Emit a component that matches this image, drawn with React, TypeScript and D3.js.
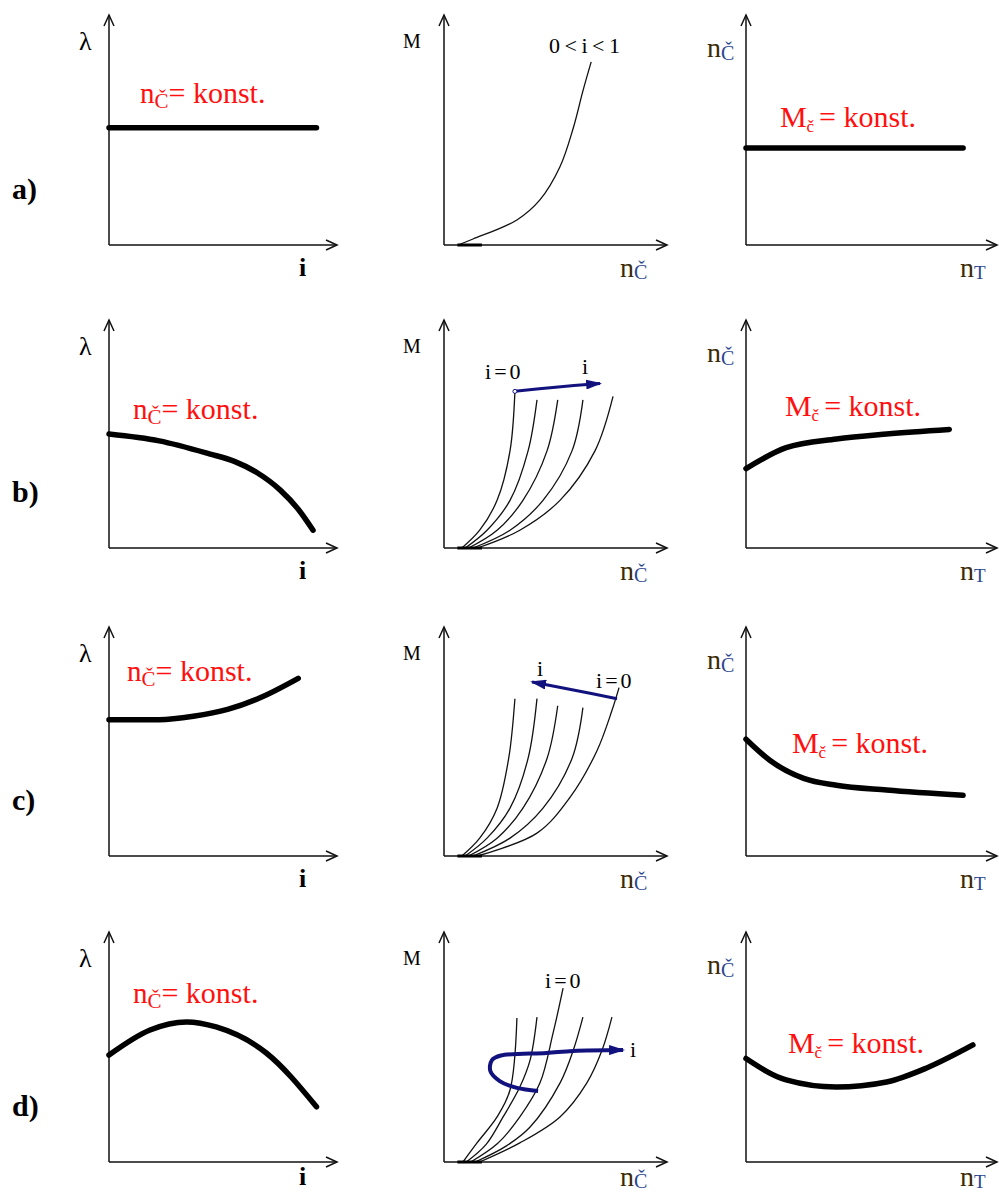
import React from "react";
import * as d3 from "d3";

const rowLabels = ["a)", "b)", "c)", "d)"];

// lambda = f(i), nČ = konst.
const lambdaA = [[0, 51], [91, 51]];
const lambdaB = [[0, 50], [22, 47], [44, 41.3], [55, 38], [65, 33], [75, 25.5], [83, 17], [89.5, 7.8]];
const lambdaC = [[0, 59.5], [22, 59.5], [37, 61], [52, 64], [66, 69], [83, 77.6]];
const lambdaD = [[0, 46.5], [18, 57.4], [34, 60.9], [47, 58.7], [69, 47.4], [91, 24]];

// M = f(nČ)
const torqueA = [
  [[6.3, 0], [13, 2.6], [32.7, 10.9], [43, 19.6], [52, 34], [58, 51], [62.3, 67], [66, 79.6]],
];
const torqueB = [
  [[8, 0], [16, 7.8], [23.8, 20.9], [29.6, 42.6], [31.8, 68.7]],
  [[9.5, 0], [19.3, 7.8], [29.6, 20.9], [37.7, 42.6], [41.7, 65]],
  [[11, 0], [23.8, 7.8], [35.4, 20.9], [46.2, 42.6], [51, 65]],
  [[13, 0], [29.6, 7.8], [44.4, 20.9], [57.4, 42.6], [62.3, 65]],
  [[15, 0], [34, 7.8], [52, 20.9], [67.7, 42.6], [75.8, 66.5]],
];
const torqueC = [
  [[8, 0], [16, 7.8], [23.8, 20.9], [29, 42.6], [31.8, 68.7]],
  [[9.5, 0], [19.3, 7.8], [29.6, 20.9], [37.7, 42.6], [41.7, 68.7]],
  [[11, 0], [23.8, 7.8], [35.4, 20.9], [46.2, 42.6], [51, 65.6]],
  [[13, 0], [29.6, 7.8], [44.4, 20.9], [57.4, 42.6], [62.3, 64.8]],
  [[15, 0], [41.7, 10], [56.5, 25.6], [68.6, 46], [75.3, 63.5], [78.5, 73.5]],
];
const torqueD = [
  [[8.5, 0], [14.8, 8.3], [23.8, 19.6], [29.6, 31.3], [32.7, 62.6]],
  [[10, 0], [19, 7.8], [26.5, 19.6], [34, 32.6], [38.6, 44.3], [41.7, 63]],
  [[12, 0], [24, 8], [34, 19.6], [43, 34.3], [48.9, 56], [53.4, 75.6]],
  [[14, 0], [28, 7], [38.6, 15.2], [52, 34.3], [58, 48.7], [62.3, 63]],
  [[16, 0], [34, 8.3], [52, 19.6], [64, 34.3], [70.9, 48.7], [75.3, 63]],
];
const shiftB = [[31.8, 68.7], [50, 70.5], [70, 72.2]];
const shiftC = [[77.6, 68.7], [58, 72.5], [39.5, 76]];
const shiftD = [[42.2, 30.9], [32.7, 32.2], [25, 35.2], [20.8, 39.5], [21.5, 44.3], [25.5, 46.3], [46, 47.4], [58, 48.3], [80.3, 48.7]];

// nČ = f(nT), Mč = konst.
const speedA = [[0, 42.2], [86.5, 42.2]];
const speedB = [[0, 34.8], [16, 44], [36, 47.8], [56, 50], [81, 52]];
const speedC = [[0, 51], [9.6, 41.7], [23, 33.9], [36, 30.9], [56, 28.8], [86.5, 26.5]];
const speedD = [[0, 45], [16, 35.7], [36, 32.6], [56, 34.8], [72, 40.9], [90.4, 50.9]];

const lambdaRows = [lambdaA, lambdaB, lambdaC, lambdaD];
const torqueRows = [torqueA, torqueB, torqueC, torqueD];
const shiftRows = [null, shiftB, shiftC, shiftD];
const speedRows = [speedA, speedB, speedC, speedD];

// layout (pixels)
const colSpan = [[109, 337], [444, 667], [746, 997]];
const rowSpan = [[245, 15], [548, 320], [856, 627], [1162, 932]];

// annotation anchors in panel units
const lambdaNote = [[13.6, 61.7], [10.5, 56.5], [7.9, 76.5], [10.5, 69]];
const speedNote = [[13.5, 51.3], [15.5, 57.8], [18.3, 45], [16.7, 47.4]];
const torqueNotes = [
  [{ t: "0 < i < 1", p: [47.1, 83.5], ls: 0 }],
  [{ t: "i=0", p: [18.4, 74.3], ls: 3 }, { t: "i", p: [61.9, 76.5], ls: 0 }],
  [{ t: "i", p: [41.7, 78.7], ls: 0 }, { t: "i=0", p: [68.2, 73.5], ls: 3 }],
  [{ t: "i=0", p: [45.3, 75.7], ls: 3 }, { t: "i", p: [83.4, 45.7], ls: 0 }],
];

const serif = "'Liberation Serif', 'Times New Roman', serif";
const red = "#ff1010";
const navy = "#12127e";

const scales = (c: number, r: number) => {
  const x = d3.scaleLinear().domain([0, 100]).range(colSpan[c]);
  const y = d3.scaleLinear().domain([0, 100]).range(rowSpan[r]);
  return { x, y };
};

function Axes({ c, r }: { c: number; r: number }) {
  const { x, y } = scales(c, r);
  const x0 = x(0), x1 = x(100), y0 = y(0), y1 = y(100);
  return (
    <g stroke="#111" strokeWidth={1.5} fill="none">
      <line x1={x0} y1={y0} x2={x1} y2={y0} />
      <line x1={x0} y1={y0} x2={x0} y2={y1} />
      <path d={`M${x1 - 11},${y0 - 5} L${x1},${y0} L${x1 - 11},${y0 + 5}`} />
      <path d={`M${x0 - 5},${y1 + 11} L${x0},${y1} L${x0 + 5},${y1 + 11}`} />
    </g>
  );
}

function curvePath(c: number, r: number, pts: number[][], curve: d3.CurveFactory = d3.curveCatmullRom.alpha(0.5)) {
  const { x, y } = scales(c, r);
  return d3
    .line<number[]>()
    .x((d) => x(d[0]))
    .y((d) => y(d[1]))
    .curve(curve)(pts) as string;
}

export default function App() {
  return (
    <svg
      width={999}
      height={1197}
      style={{ position: "absolute", left: 0, top: 0, background: "#fff", fontFamily: serif }}
    >
      <defs>
        <marker
          id="head"
          viewBox="0 -5 16 10"
          refX={14}
          refY={0}
          markerWidth={16}
          markerHeight={10}
          markerUnits="userSpaceOnUse"
          orient="auto"
        >
          <path d="M0,-5 L16,0 L0,5 Z" fill={navy} />
        </marker>
      </defs>
      <rect width={999} height={1197} fill="#fff" />
      {rowLabels.map((lab, r) => {
        const yb = rowSpan[r][0];
        const top = rowSpan[r][1];
        const xl = Math.min(yb + 31, 1185);
        const l = scales(0, r);
        const m = scales(1, r);
        const s = scales(2, r);
        const shift = shiftRows[r];
        return (
          <g key={lab}>
            <text x={12} y={yb - 46} fontSize={30} fontWeight="bold">
              {lab}
            </text>

            {/* column 1: lambda(i) */}
            <Axes c={0} r={r} />
            <text x={79} y={top + 35} fontSize={26}>λ</text>
            <text x={299} y={xl} fontSize={26} fontWeight="bold">i</text>
            <path d={curvePath(0, r, lambdaRows[r], d3.curveMonotoneX)} fill="none" stroke="#000" strokeWidth={5.5} strokeLinecap="round" />
            <text x={l.x(lambdaNote[r][0])} y={l.y(lambdaNote[r][1])} fill={red} fontSize={29}>
              <tspan>n</tspan>
              <tspan fontSize={21} dy={5}>Č</tspan>
              <tspan dy={-5} fontSize={30}>= konst.</tspan>
            </text>

            {/* column 2: M(nČ) */}
            <Axes c={1} r={r} />
            <text x={403} y={top + 33} fontSize={20}>M</text>
            <text x={620} y={xl + 1} fontSize={28}>
              <tspan fill="#3d2a08">n</tspan>
              <tspan fill="#2a4590" fontSize={20} dy={2}>Č</tspan>
            </text>
            {torqueRows[r].map((pts, k) => (
              <path key={k} d={curvePath(1, r, pts)} fill="none" stroke="#111" strokeWidth={1.3} />
            ))}
            <line x1={m.x(6)} x2={m.x(17)} y1={yb} y2={yb} stroke="#000" strokeWidth={3} />
            {shift && (
              <path
                d={curvePath(1, r, shift)}
                fill="none"
                stroke={navy}
                strokeWidth={r === 3 ? 4 : 3}
                markerEnd="url(#head)"
              />
            )}
            {r === 1 && shift && (
              <circle cx={m.x(shift[0][0])} cy={m.y(shift[0][1])} r={2} fill="#fff" stroke={navy} strokeWidth={1} />
            )}
            {torqueNotes[r].map((n, k) => (
              <text
                key={k}
                x={m.x(n.p[0])}
                y={m.y(n.p[1])}
                fontSize={22}
                letterSpacing={n.ls}
                {...(r === 0 ? { textLength: 71, lengthAdjust: "spacing" } : {})}
              >
                {n.t}
              </text>
            ))}

            {/* column 3: nČ(nT) */}
            <Axes c={2} r={r} />
            <text x={707} y={top + 42} fontSize={28}>
              <tspan fill="#3d2a08">n</tspan>
              <tspan fill="#2a4590" fontSize={20} dy={3}>Č</tspan>
            </text>
            <text x={960} y={xl + 1} fontSize={28}>
              <tspan fill="#3d2a08">n</tspan>
              <tspan fill="#2a4590" fontSize={19} dy={2}>T</tspan>
            </text>
            <path d={curvePath(2, r, speedRows[r], d3.curveMonotoneX)} fill="none" stroke="#000" strokeWidth={5.5} strokeLinecap="round" />
            <text x={s.x(speedNote[r][0])} y={s.y(speedNote[r][1])} fill={red} fontSize={30}>
              <tspan>M</tspan>
              <tspan fontSize={17} dy={5}>č</tspan>
              <tspan dy={-5} dx={5}>= konst.</tspan>
            </text>
          </g>
        );
      })}
    </svg>
  );
}
